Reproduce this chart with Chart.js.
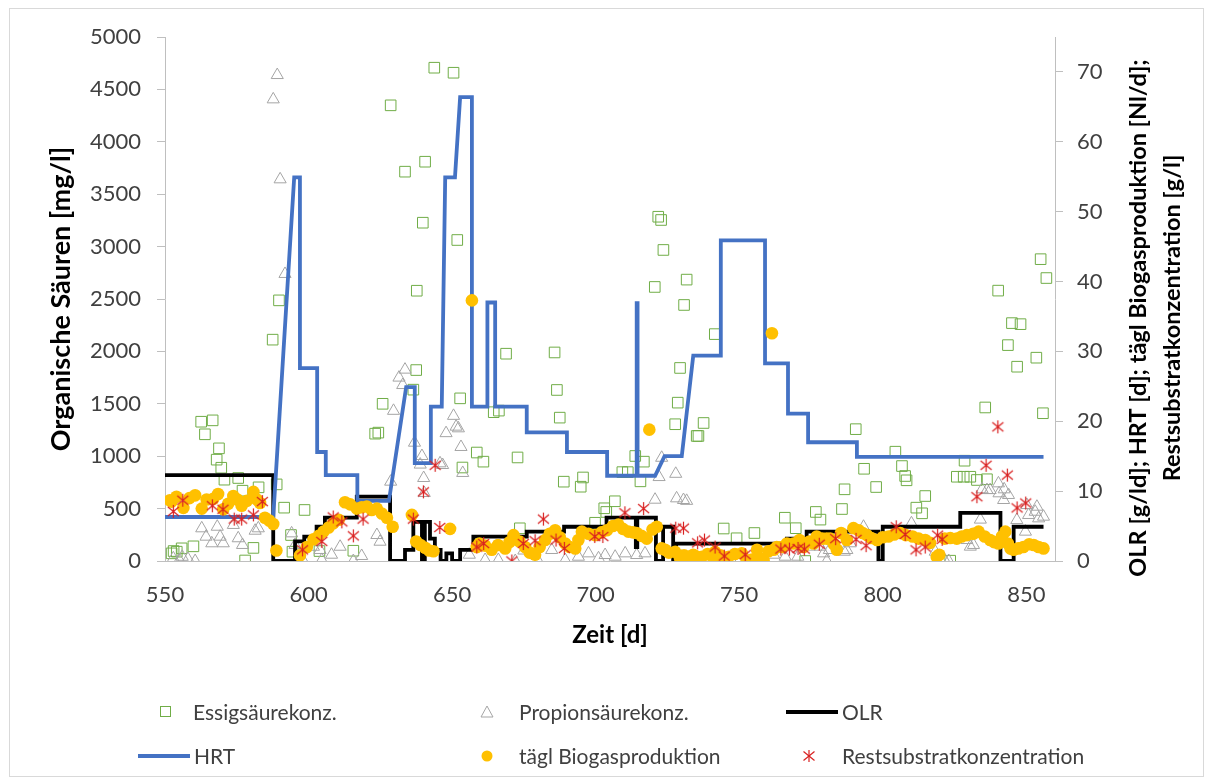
<!DOCTYPE html>
<html><head><meta charset="utf-8">
<script src="https://cdn.jsdelivr.net/npm/chart.js@4/dist/chart.umd.min.js"></script>
<style>
html,body{margin:0;padding:0;background:#fff;}
#wrap{position:relative;width:1214px;height:782px;overflow:hidden;font-family:Lato,sans-serif;}
#frame{position:absolute;left:9px;top:8px;width:1195px;height:769px;border:1px solid #D9D9D9;box-sizing:border-box;}
canvas#c{position:absolute;left:0;top:0;}
.lg{position:absolute;font-size:21px;color:#404040;line-height:24px;white-space:nowrap;transform:translateY(-50%);}
.mk{position:absolute;}
</style></head><body>
<div id="wrap">
<div id="frame"></div>
<canvas id="c" width="1214" height="782"></canvas>
<svg class="mk" style="left:160px;top:706px" width="12" height="12"><rect x="0.5" y="0.5" width="10" height="10" fill="none" stroke="#70AD47" stroke-width="1"/></svg>
<div class="lg" style="left:193px;top:712px">Essigsäurekonz.</div>
<svg class="mk" style="left:480px;top:705px" width="14" height="14"><polygon points="7,1 13,12 1,12" fill="none" stroke="#A5A5A5" stroke-width="1"/></svg>
<div class="lg" style="left:519px;top:712px">Propionsäurekonz.</div>
<svg class="mk" style="left:786px;top:708px" width="52" height="8"><line x1="0" y1="4" x2="52" y2="4" stroke="#000" stroke-width="4"/></svg>
<div class="lg" style="left:842px;top:712px">OLR</div>
<svg class="mk" style="left:138px;top:752px" width="52" height="8"><line x1="0" y1="4" x2="52" y2="4" stroke="#4472C4" stroke-width="4"/></svg>
<div class="lg" style="left:194px;top:756px">HRT</div>
<svg class="mk" style="left:481px;top:750px" width="12" height="12"><circle cx="6" cy="6" r="5.5" fill="#FFC000"/></svg>
<div class="lg" style="left:519px;top:756px">tägl Biogasproduktion</div>
<svg class="mk" style="left:802px;top:749px" width="14" height="14"><g stroke="#D92020" stroke-width="1.2"><line x1="7" y1="1" x2="7" y2="13"/><line x1="1.5" y1="2.5" x2="12.5" y2="11.5"/><line x1="12.5" y1="2.5" x2="1.5" y2="11.5"/></g></svg>
<div class="lg" style="left:842px;top:756px">Restsubstratkonzentration</div>
</div>
<script>
// ---- data ----
const essigDays = [552.3,553,554.1,555.8,559.9,562.6,563.9,566.6,568,568.8,569.6,570.7,575.5,577,577.9,580.8,582.6,587.5,588.9,589.7,591.5,593.9,594.4,598.6,603.8,615.6,623.2,624.3,625.8,628.6,633.6,636.5,637.5,637.7,639.8,640.6,643.8,650.5,651.8,652.8,653.6,658.6,660.9,664.5,666.3,668.8,672.8,673.6,685.7,686.5,687.5,688.9,694.8,695.6,699.8,703,703.7,706.7,709.3,711.2,713.8,715.6,716.8,720.6,721.8,722.8,723.6,727.7,728.6,729.4,730.8,731.7,735.2,735.8,737.6,741.5,744.6,749.1,755.3,765.9,769.7,773,776.7,778.3,785.8,786.7,790.6,793.5,797.7,804.4,806.7,807.8,808.3,811.7,813.7,814.8,823.5,825.8,828.2,828.5,830.5,832.8,835.7,836.3,840.2,843.6,845,846.8,848,853.5,855,855.8,857];
const essigValues = [73,95,89,121,140,1329,1209,1342,967,1075,890,776,792,671,5,125,703,2112,731,2487,509,248,89,487,95,98,1215,1225,1500,4348,3715,1635,1822,2579,3228,3810,4707,4659,3063,1552,892,1035,948,1420,1435,1978,988,312,1990,1632,1368,757,709,797,365,503,468,570,848,848,1002,760,948,2615,3285,3254,2968,1305,1511,1842,2443,2685,1193,1193,1317,2165,310,217,267,413,313,0,468,395,496,684,1258,880,706,1043,906,811,770,509,455,620,3,804,804,957,804,773,1465,780,2580,2060,2270,1854,2260,1940,2880,1410,2700];

const propDays = [552.9,555,556,558,560.5,562.8,564.3,566.3,568.2,569.2,570.3,573.8,575.5,577,581.4,582.5,587.7,589.1,590.1,591.8,594.1,595.3,598,601.7,604,604.6,608,611,615.6,618.5,623.8,624.9,628.6,629.6,631.5,632.8,633.6,636.9,638.9,639.5,640.1,640.3,645.8,646.7,647.9,650.5,651.4,652.2,653.1,653.7,656,661.5,666.1,672,675,680,684.7,689.4,694,697.5,701,703.3,706.8,710.3,714.3,717.2,720.7,722.1,723,727.9,728.2,730,730.6,731.7,743.4,747.4,752.6,757.5,762,766,770.4,774.4,778.2,779.4,780.5,781.4,786.6,787.5,788.7,793.3,810,818.3,821.2,823,829.3,830.5,831.6,834,834.6,836.3,837.4,840.3,840.5,842.1,842.3,843.8,846.7,849.7,850.2,850.8,853.1,853.7,854.3,856];
const propValues = [26,10,40,20,0,312,232,169,327,232,169,344,217,153,289,312,4405,4637,3642,2739,264,153,10,136,105,10,60,136,0,48,248,184,757,1433,1750,1679,1826,1129,920,1002,792,649,932,916,1220,1385,1282,1266,1088,840,60,10,10,0,100,0,105,10,41,73,26,57,41,73,57,73,585,801,985,832,598,41,582,574,0,0,10,10,60,41,41,137,137,73,0,105,89,105,169,327,360,89,26,0,200,137,153,395,684,677,677,741,646,582,684,630,391,280,534,439,470,518,407,423];

const olrDays = [550,587.7,587.7,595.3,595.3,598.5,598.5,602.8,602.8,605.7,605.7,616.8,616.8,628.4,628.4,633.6,633.6,636.5,636.5,639.5,639.5,640.5,640.5,642.3,642.3,644,644,646,646,648,648,650,650,652.8,652.8,657.4,657.4,676,676,689,689,703.8,703.8,714,714,714.5,714.5,721,721,723.5,723.5,727,727,728,728,766.6,766.6,773.5,773.5,798.5,798.5,800,800,827,827,841,841,845.6,845.6,856];
const olrValues = [12.3,12.3,0,0,2.8,2.8,3.5,3.5,4.9,4.9,6.2,6.2,9.2,9.2,0,0,1.6,1.6,5.6,5.6,0,0,5.6,5.6,3.2,3.2,1.6,1.6,0,0,1.1,1.1,0,0,1.6,1.6,3.5,3.5,4.2,4.2,4.9,4.9,6.2,6.2,2.0,2.0,6.2,6.2,0,0,4.9,4.9,0,0,2.5,2.5,3.2,3.2,4.2,4.2,0,0,4.9,4.9,6.9,6.9,0,0,4.9,4.9];

const hrtDays = [550,587.7,595,597,597,603,603,606,606,617,617,628,634,637,637,642.6,642.6,646.4,647.6,651,652.8,656.9,656.9,662.3,662.3,665,665,676,676,690,690,704,704,714.3,714.3,714.6,714.6,720.7,724,730,734,743.4,743.6,759,759,767,767,774,774,791,791,856];
const hrtValues = [6.3,6.3,54.9,54.9,27.6,27.6,15.6,15.6,12.3,12.3,8.6,8.6,24.9,24.9,14.0,14.0,22.1,22.1,54.9,54.9,66.4,66.4,22.1,22.1,37.0,37.0,22.1,22.1,18.4,18.4,15.6,15.6,12.2,12.2,36.9,36.9,12.2,12.2,15.0,15.0,29.4,29.4,45.9,45.9,28.3,28.3,21.1,21.1,17.0,17.0,14.9,14.9];

const gasDays = [551.7,552.3,554,556.4,558.5,560.5,562.8,564.5,566.8,568.5,570.3,572,573.8,575.2,576.7,578.5,580.8,582,583.1,584.8,586.3,587.7,588.8,597,599.4,601.7,603.5,605.2,607,608.6,610.5,612.7,614.5,616.8,618.5,620.3,622,623.8,625.5,627.3,629.3,636,637.5,639,640.6,642,643.5,649.3,656.9,658.6,659.5,661.5,663.8,666,668.5,670,671.4,673.5,675.4,677,678.9,680.5,682.4,684,685.9,687.5,689.4,691,692.9,694,695.2,697.5,699.8,702,703.9,706,707.9,709.5,711.4,713,714.3,716,717.8,718.7,719.8,721.3,723,724.2,725.5,727.7,729.4,730.8,732.3,734,735.2,737,739,741,741.6,743.5,745.6,746.3,748.5,750.9,752.6,754.4,756.2,757.2,758.5,760.2,761.4,762,763.1,765,766.6,768.9,771,772.4,774.5,775.9,777,779,780.5,781.7,783,784,785.5,787.5,789.8,791.6,793,794.5,796,798,800,802,804,806.1,808,810.4,812.5,814.8,816.5,818.8,819.7,821.6,823.5,825.8,827.5,829.3,831.5,833.4,835.5,837.4,838.8,840.3,841.5,842.7,843.6,844.5,845.6,847.2,849,851,852.6,854.3,856];
const gasValues = [8.7,8.5,9.2,7.6,9.0,9.4,7.5,8.8,8.9,9.6,7.4,8.2,9.3,8.8,7.9,8.6,9.9,8.8,8.3,6.2,5.8,5.3,1.5,0.8,2.0,3.1,3.6,4.2,4.8,5.4,5.9,8.4,8.1,7.5,7.7,7.8,7.3,7.5,6.8,6.2,4.9,6.6,2.8,2.3,1.9,1.5,1.4,4.6,37.3,2.0,2.5,2.2,1.6,2.3,1.8,2.7,3.7,2.8,2.0,1.2,0.9,2.0,3.0,3.9,4.4,3.4,2.5,2.0,1.8,3.0,4.2,3.9,3.7,4.1,4.4,5.0,5.2,4.6,4.2,4.1,4.0,3.6,3.2,18.8,4.5,4.9,1.8,1.6,1.2,1.3,0.4,0.8,0.6,0.9,0.6,0.6,1.0,0.4,1.3,0.8,0.1,0.6,1.0,1.1,0.1,0.2,1.6,0.4,0.1,1.4,32.6,1.6,2.0,2.0,2.5,2.5,3.0,2.0,2.8,2.5,3.5,3.2,3.2,3.2,2.4,1.6,4.0,3.0,4.7,4.4,4.0,3.7,3.3,3.0,3.4,3.5,3.8,4.0,3.7,3.5,3.2,3.0,2.6,0.6,0.9,3.2,3.3,3.2,3.5,3.7,3.9,4.2,3.5,3.0,2.7,2.5,3.5,4.2,2.5,1.8,1.6,1.8,2.0,2.4,2.3,2.0,1.8];

const restDays = [552.9,556.2,566.5,570.2,574.1,576.7,580.8,583.9,597.9,604.6,608.6,611.6,615.6,619,636.5,640,644.1,645.7,658.6,661,670.8,674.8,678.9,681.8,686.2,689.1,699.7,702.5,710.2,716.7,727.9,730.6,735.5,737.9,741.6,744.8,752.1,764.5,767.5,770.5,772.7,777.9,783.6,790.7,794.2,804.7,807.8,811.6,814.8,819.1,820.7,832.8,836,840.1,843.4,846.8,849.8];
const restValues = [7.1,8.7,7.9,7.4,6.0,6.0,6.6,8.5,1.6,2.8,6.3,5.6,3.6,6.0,6.0,9.9,13.7,4.8,2.0,2.5,0,2.5,2.9,6.0,3.0,1.8,3.5,3.5,6.9,7.5,4.7,4.7,2.6,3.0,2.0,0.7,0.9,1.7,1.7,1.8,1.7,2.4,3.2,3.1,2.2,4.9,3.8,1.6,2.0,3.7,3.1,9.2,13.7,19.2,12.3,7.6,8.3];

// ---- axes ----
const xMin = 550, xMax = 860;
const xTickValues = [550, 600, 650, 700, 750, 800, 850];
const leftMax = 5000;
const leftTickValues = [0, 500, 1000, 1500, 2000, 2500, 3000, 3500, 4000, 4500, 5000];
const rightMax = 75;
const rightTickValues = [0, 10, 20, 30, 40, 50, 60, 70];

const xTitle = 'Zeit [d]';
const leftTitle = 'Organische Säuren [mg/l]';
const rightTitleLines = ['OLR [g/ld]; HRT [d]; tägl Biogasproduktion [Nl/d];', 'Restsubstratkonzentration [g/l]'];

function pts(d, v){ return d.map((x,i)=>({x:x, y:v[i]})); }
function setTicks(list){ return s => { s.ticks = list.map(v => ({value: v})); }; }

function makeStar(size, color, lw){
  const c = document.createElement('canvas'); c.width = size; c.height = size;
  const g = c.getContext('2d'); g.strokeStyle = color; g.lineWidth = lw;
  const m = size/2, r = size/2 - 1;
  g.beginPath();
  g.moveTo(m, m - r); g.lineTo(m, m + r);
  g.moveTo(m - r*0.85, m - r*0.7); g.lineTo(m + r*0.85, m + r*0.7);
  g.moveTo(m + r*0.85, m - r*0.7); g.lineTo(m - r*0.85, m + r*0.7);
  g.stroke();
  return c;
}
const starImg = makeStar(15, '#D92020', 1.2);

Chart.defaults.font.family = 'Lato, sans-serif';
Chart.defaults.color = '#404040';

const rightTitlePlugin = {
  id: 'rightTitle',
  afterDraw(chart){
    const ctx = chart.ctx;
    ctx.save();
    ctx.fillStyle = '#000';
    ctx.font = 'bold 23.5px Lato, sans-serif';
    ctx.textAlign = 'center';
    ctx.textBaseline = 'middle';
    const xs = [1138, 1172];
    rightTitleLines.forEach((t,i)=>{
      ctx.save();
      ctx.translate(xs[i], 318);
      ctx.rotate(-Math.PI/2);
      ctx.fillText(t, 0, 0);
      ctx.restore();
    });
    ctx.restore();
  }
};

const axisColor = '#BFBFBF';
const plain = v => String(Math.round(v));

new Chart(document.getElementById('c'), {
  type: 'scatter',
  data: {
    datasets: [
      {label:'Essigsäurekonz.', data: pts(essigDays, essigValues), yAxisID:'y', pointStyle:'rect', pointRadius:7.5, pointBorderWidth:1, borderColor:'#70AD47', backgroundColor:'rgba(0,0,0,0)', order:5},
      {label:'Propionsäurekonz.', data: pts(propDays, propValues), yAxisID:'y', pointStyle:'triangle', pointRadius:7, pointBorderWidth:1, borderColor:'#A5A5A5', backgroundColor:'rgba(0,0,0,0)', order:4},
      {label:'OLR', data: pts(olrDays, olrValues), yAxisID:'y2', showLine:true, pointRadius:0, borderColor:'#000000', borderWidth:3.8, tension:0, order:3},
      {label:'HRT', data: pts(hrtDays, hrtValues), yAxisID:'y2', showLine:true, pointRadius:0, borderColor:'#4472C4', borderWidth:3.8, tension:0, order:2},
      {label:'tägl Biogasproduktion', data: pts(gasDays, gasValues), yAxisID:'y2', pointStyle:'circle', pointRadius:6.3, borderWidth:0, pointBorderWidth:0, backgroundColor:'#FFC000', borderColor:'#FFC000', order:1},
      {label:'Restsubstratkonzentration', data: pts(restDays, restValues), yAxisID:'y2', pointStyle:starImg, pointRadius:7, borderColor:'#D92020', order:0}
    ]
  },
  options: {
    responsive:false, animation:false, devicePixelRatio:1,
    layout:{padding:{left:0, right:0, top:37, bottom:121}},
    plugins:{legend:{display:false}, tooltip:{enabled:false}},
    scales:{
      x:{type:'linear', position:'bottom', min:xMin, max:xMax,
         ticks:{padding:13, font:{size:22}, color:'#404040', callback:plain},
         afterBuildTicks: setTicks(xTickValues),
         grid:{display:false}, border:{display:true, color:axisColor, width:1},
         title:{display:true, text:xTitle, font:{size:24, weight:'bold'}, color:'#000', padding:{top:0,bottom:11}},
         afterFit(s){ s.height = 100; }},
      y:{type:'linear', position:'left', min:0, max:leftMax,
         ticks:{padding:16, font:{size:22}, color:'#404040', callback:plain},
         afterBuildTicks: setTicks(leftTickValues),
         grid:{display:true, drawOnChartArea:false, drawTicks:true, tickLength:8, color:axisColor},
         border:{display:true, color:axisColor, width:1},
         title:{display:true, text:leftTitle, font:{size:27, weight:'bold'}, color:'#000', padding:{top:45,bottom:0}},
         afterFit(s){ s.width = 165; }},
      y2:{type:'linear', position:'right', min:0, max:rightMax,
         ticks:{padding:14, font:{size:22}, color:'#404040', callback:plain},
         afterBuildTicks: setTicks(rightTickValues),
         grid:{display:true, drawOnChartArea:false, drawTicks:true, tickLength:8, color:axisColor},
         border:{display:true, color:axisColor, width:1},
         afterFit(s){ s.width = 159; }}
    }
  },
  plugins:[rightTitlePlugin]
});
</script>
</body></html>
